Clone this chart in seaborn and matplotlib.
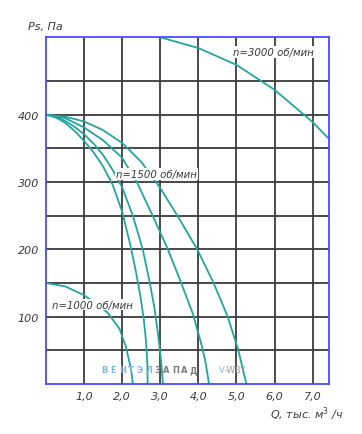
import seaborn as sns
import matplotlib.pyplot as plt

# fan curves, Q in thousand m3/h, Ps in Pa
q_3000 = [2.5, 3.0, 4.0, 5.0, 6.0, 7.0, 7.43, 7.6]
p_3000 = [521, 515, 499, 474, 437, 389, 364, 354]

q_1500_a = [0, 0.25, 0.5, 0.75, 1.0, 1.25, 1.5, 1.75, 2.0, 2.2, 2.35, 2.48, 2.57, 2.63, 2.66, 2.67]
p_1500_a = [400, 396, 388, 376, 361, 344, 323, 296, 256, 210, 170, 130, 95, 60, 30, 0]
q_1500_b = [0, 0.25, 0.5, 0.75, 1.0, 1.25, 1.5, 1.75, 2.0, 2.28, 2.54, 2.72, 2.85, 2.95, 3.02, 3.07]
p_1500_b = [400, 397, 391, 382, 371, 357, 340, 318, 292, 250, 200, 152, 112, 70, 35, 0]
q_1500_c = [0, 0.5, 1.0, 1.5, 2.0, 2.4, 2.8, 3.2, 3.55, 3.85, 4.05, 4.18, 4.28]
p_1500_c = [400, 395, 381, 362, 336, 298, 250, 200, 150, 105, 65, 35, 0]
q_1500_d = [0, 0.5, 1.0, 1.5, 2.0, 2.5, 3.0, 3.45, 3.97, 4.4, 4.77, 5.05, 5.26]
p_1500_d = [400, 397, 390, 377, 358, 330, 291, 250, 200, 150, 100, 50, 0]

q_1000 = [0, 0.5, 1.0, 1.62, 1.93, 2.1, 2.2, 2.25, 2.28]
p_1000 = [150, 145, 132, 106, 82, 55, 30, 15, 0]

x_ticks = [1, 2, 3, 4, 5, 6, 7]
x_labels = ["1,0", "2,0", "3,0", "4,0", "5,0", "6,0", "7,0"]
y_ticks = [100, 200, 300, 400]

curves = [(q_3000, p_3000), (q_1500_a, p_1500_a), (q_1500_b, p_1500_b),
          (q_1500_c, p_1500_c), (q_1500_d, p_1500_d), (q_1000, p_1000)]

sns.set_theme(style="white")
plt.rcParams['font.family'] = ['DejaVu Sans']

fig = plt.figure(figsize=(3.62, 4.35), dpi=100)
ax = fig.add_axes([0.127, 0.115, 0.782, 0.797])

teal = "#22a6a0"
for q, p in curves:
    sns.lineplot(x=q, y=p, ax=ax, color=teal, lw=1.3, sort=False, estimator=None)

ax.set_xlim(0, 7.43)
ax.set_ylim(0, 515)

for v in x_ticks:
    ax.axvline(v, color="#1a1a1a", lw=1.1, zorder=0)
for h in range(50, 500, 50):
    ax.axhline(h, color="#3a3a3a", lw=1.3, zorder=0)

for s in ax.spines.values():
    s.set_color("#4a4aff")
    s.set_linewidth(1.3)

ax.set_xticks(x_ticks)
ax.set_xticklabels(x_labels)
ax.set_yticks(y_ticks)
ax.tick_params(length=0, labelsize=8, colors="#3a3a3a", pad=5)
for lab in ax.get_xticklabels() + ax.get_yticklabels():
    lab.set_fontstyle("italic")
ax.set_xlabel("")
ax.set_ylabel("")

box = dict(facecolor="white", edgecolor="none", pad=0.5)
lbl = dict(fontsize=7.3, style="italic", color="#3a3a3a", ha="center", va="center", bbox=box)
ax.text(5.98, 493, "n=3000 об/мин", **lbl)
ax.text(2.9, 312, "n=1500 об/мин", **lbl)
ax.text(1.23, 118, "n=1000 об/мин", **lbl)

fig.text(0.077, 0.932, "Ps, Па", fontsize=8, style="italic", color="#3a3a3a")
fig.text(0.745, 0.038, "Q, тыс. м$^3$ /ч", fontsize=8, style="italic", color="#3a3a3a")

# watermark
letters = "ВЕНТЭЛЗАПАД"
for i, ch in enumerate(letters):
    ax.text(1.45 + i * 0.232, 18, ch, fontsize=6, fontweight="bold",
            color="#7fb8e6" if i < 6 else "#7a7a7a", ha="left")
ax.text(4.55, 18, "V", fontsize=6, color="#7fb8e6")
ax.text(4.7, 18, "-WBY", fontsize=6, color="#9a9a9a")

fig.savefig("out.png", dpi=100)
